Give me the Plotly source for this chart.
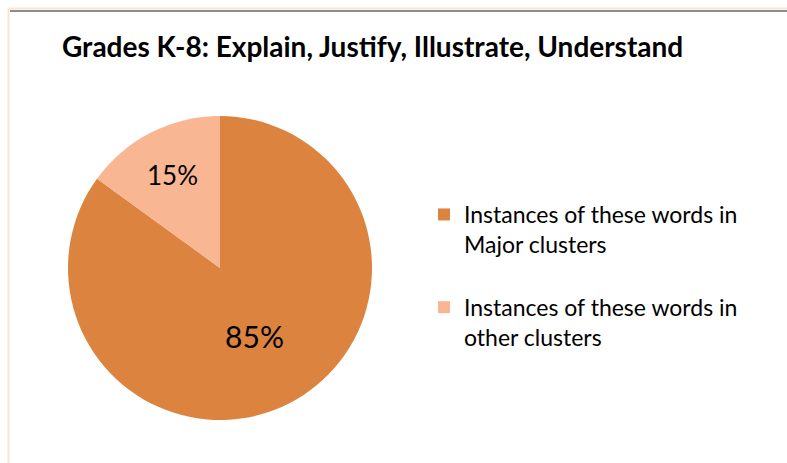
import plotly.graph_objects as go

labels = ["Instances of these words in<br>Major clusters",
          "Instances of these words in<br>other clusters"]
values = [85, 15]
colors = ["#DC843F", "#F9B692"]

W, H = 787, 463
cx, cy, r = 220, 268, 152

fig = go.Figure()
fig.add_trace(go.Pie(
    labels=[lab + "<br> " for lab in labels], values=values, sort=False,
    direction="clockwise", rotation=0,
    marker=dict(colors=colors, line=dict(width=0)),
    textinfo="percent", textposition="inside", insidetextorientation="horizontal",
    textfont=dict(family="Lato", size=[30, 26], color="#000000"),
    domain=dict(x=[(cx - r) / W, (cx + r) / W], y=[(H - cy - r) / H, (H - cy + r) / H]),
    hoverinfo="label+percent",
))

fig.update_layout(
    width=W, height=H,
    margin=dict(l=0, r=0, t=0, b=0),
    paper_bgcolor="#FFFFFF",
    title=dict(text="<b>Grades K-8: Explain, Justify, Illustrate, Understand</b>",
               x=62 / W, xanchor="left", y=1 - 47 / H, yanchor="middle",
               font=dict(family="Lato", size=28, color="#000000")),
    legend=dict(x=424 / W, y=1 - 193 / H, xanchor="left", yanchor="top",
                font=dict(family="Lato", size=23, color="#000000"),
                valign="top", itemsizing="constant"),
    showlegend=True,
    shapes=[
        dict(type="line", xref="paper", yref="paper", x0=8.5 / W, x1=1, y0=1 - 8.5 / H, y1=1 - 8.5 / H,
             line=dict(color="#FBE3D2", width=2)),
        dict(type="line", xref="paper", yref="paper", x0=8.5 / W, x1=8.5 / W, y0=0, y1=1 - 8.5 / H,
             line=dict(color="#FBE3D2", width=2)),
        dict(type="line", xref="paper", yref="paper", x0=10 / W, x1=1, y0=1 - 11 / H, y1=1 - 11 / H,
             line=dict(color="#8C8C8C", width=2)),
    ],
)

fig.write_html("out.html", config={"displayModeBar": False},
               post_script="document.body.style.margin='0';")
